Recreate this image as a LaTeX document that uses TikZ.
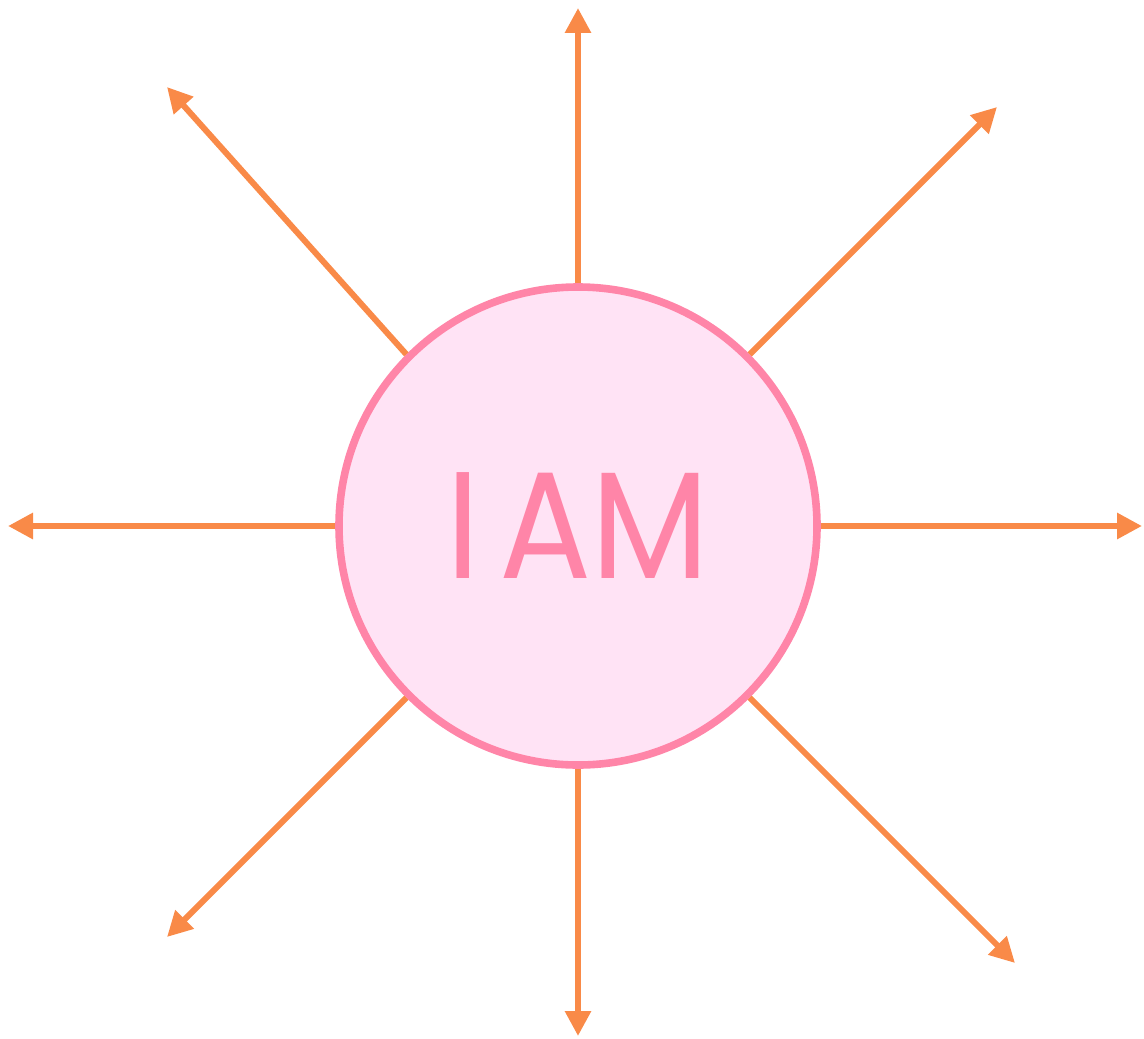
\documentclass[tikz,border=0pt]{standalone}
\usepackage{fontspec}
\newfontfamily\corefont{Poppins}[FakeStretch=0.9, WordSpace=0.55]
\usetikzlibrary{arrows.meta}
\definecolor{rayorange}{HTML}{F98A48}
\definecolor{ringpink}{HTML}{FF85A8}
\definecolor{corepink}{HTML}{FFE3F5}
\begin{document}
\begin{tikzpicture}[x=0.5pt, y=-0.5pt,
        core/.style={circle, draw=ringpink, fill=corepink, line width=3.8pt, minimum size=239pt, inner sep=0pt, text=ringpink, font=\corefont\fontsize{76}{76}\selectfont},
        ray/.style={-{Triangle[length=12.5pt, width=12.5pt]}, draw=rayorange, line width=3pt}
    ]
    \useasboundingbox (0,0) rectangle (1144,1038);
    \node[core] (self) at (578,526) {I AM};
    \coordinate (n) at (578,8);
    \coordinate (s) at (578,1036);
    \coordinate (w) at (8,526);
    \coordinate (e) at (1142,526);
    \coordinate (nw) at (167,87);
    \coordinate (ne) at (997,107);
    \coordinate (sw) at (167,937);
    \coordinate (se) at (1015,963);
    \draw[ray] (self.north) -- (n);
    \draw[ray] (self.south) -- (s);
    \draw[ray] (self.west) -- (w);
    \draw[ray] (self.east) -- (e);
    \draw[ray] (self.north west) -- (nw);
    \draw[ray] (self.north east) -- (ne);
    \draw[ray] (self.south west) -- (sw);
    \draw[ray] (self.south east) -- (se);
\end{tikzpicture}
\end{document}
